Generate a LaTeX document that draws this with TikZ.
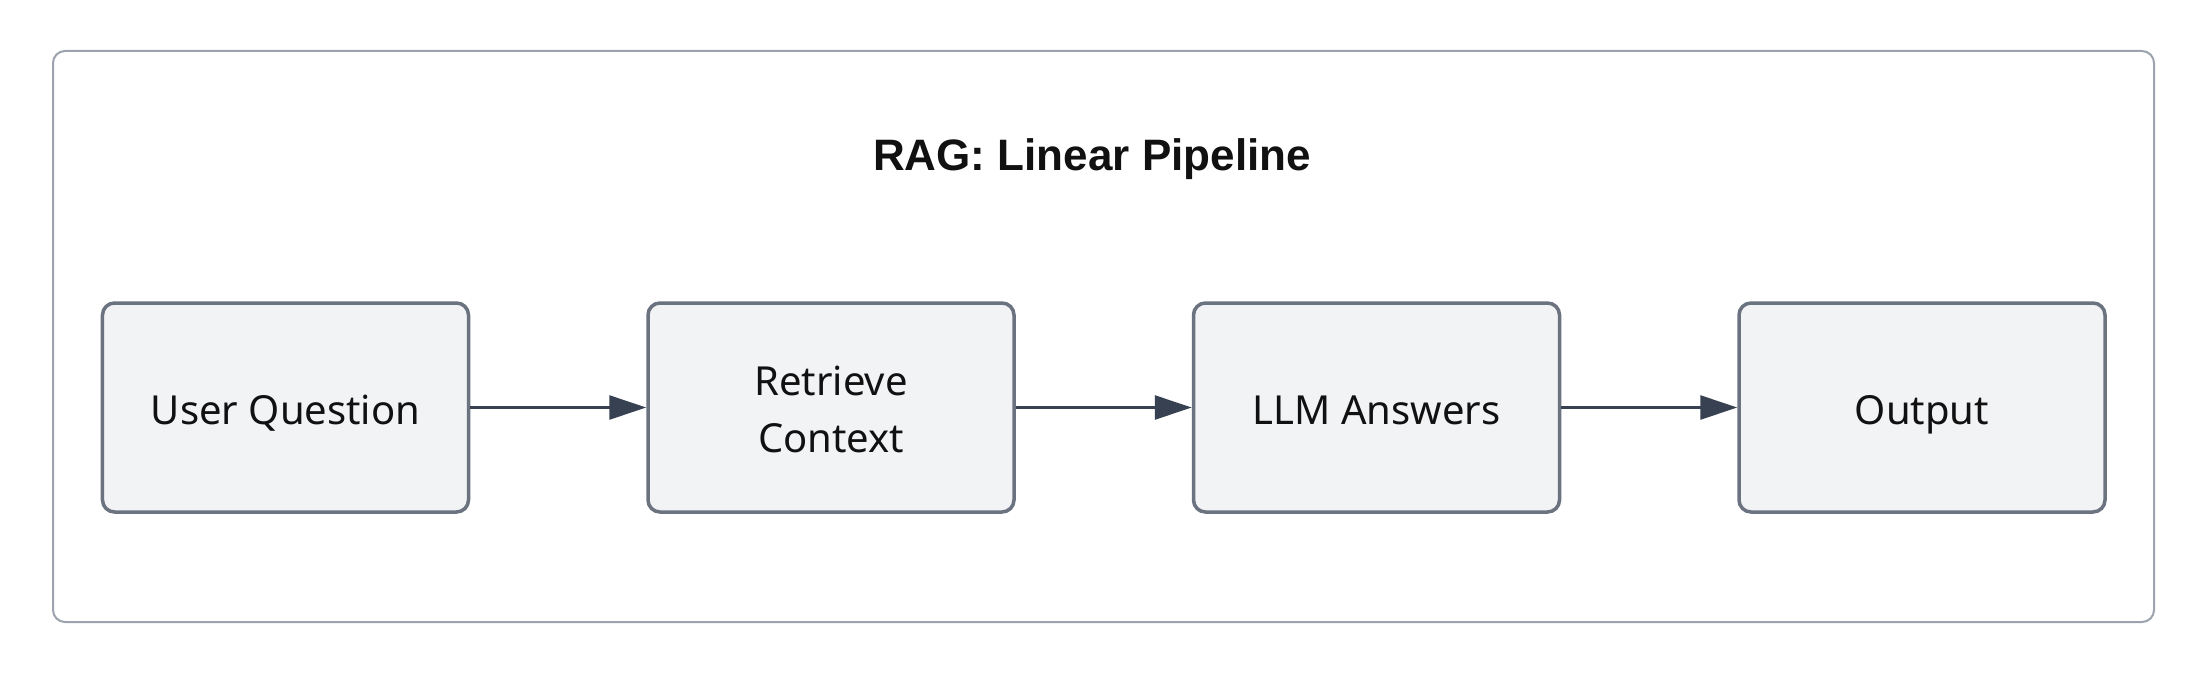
\documentclass[tikz,border=0pt]{standalone}
\usepackage{fontspec}
\setmainfont{Noto Sans}
\newfontfamily\titlefont{Liberation Sans}
\usetikzlibrary{arrows.meta}
\definecolor{boxfill}{HTML}{F2F3F5}
\definecolor{boxline}{HTML}{6B7280}
\definecolor{frameline}{HTML}{9CA3AF}
\definecolor{arrowc}{HTML}{374151}
\definecolor{textc}{HTML}{111111}
\tikzset{
  stepbox/.style={draw=boxline, fill=boxfill, line width=3.5bp, rounded corners=12bp,
    minimum width=366bp, minimum height=209bp, inner sep=0pt},
  lbl/.style={text=textc, font=\fontsize{40bp}{56bp}\selectfont, inner sep=0pt, anchor=base},
  titlec/.style={text=textc, font=\titlefont\bfseries\fontsize{44bp}{52bp}\selectfont, inner sep=0pt, anchor=base},
  flow/.style={draw=arrowc, line width=2.5bp, -{Triangle[length=37bp, width=24bp]}}
}
\begin{document}
\begin{tikzpicture}[x=1bp, y=-1bp]
\useasboundingbox[fill=white] (0,0) rectangle (2200,676);
\draw[frameline, line width=2bp, rounded corners=12bp] (53,51) rectangle (2154,622);
\node[titlec] (title) at (1092,170) {RAG: Linear Pipeline};
\node[stepbox] (q) at (285.5,407.5) {};
\node[stepbox] (r) at (831,407.5) {};
\node[stepbox] (l) at (1376.5,407.5) {};
\node[stepbox] (o) at (1922,407.5) {};
\node[lbl] (qt) at (285.5,424.5) {User Question};
\node[lbl] (rt1) at (831,395) {Retrieve};
\node[lbl] (rt2) at (831,452) {Context};
\node[lbl] (lt) at (1376.5,424.5) {LLM Answers};
\node[lbl] (ot) at (1922,424.5) {Output};
\draw[flow] (q) -- (r);
\draw[flow] (r) -- (l);
\draw[flow] (l) -- (o);
\end{tikzpicture}
\end{document}
